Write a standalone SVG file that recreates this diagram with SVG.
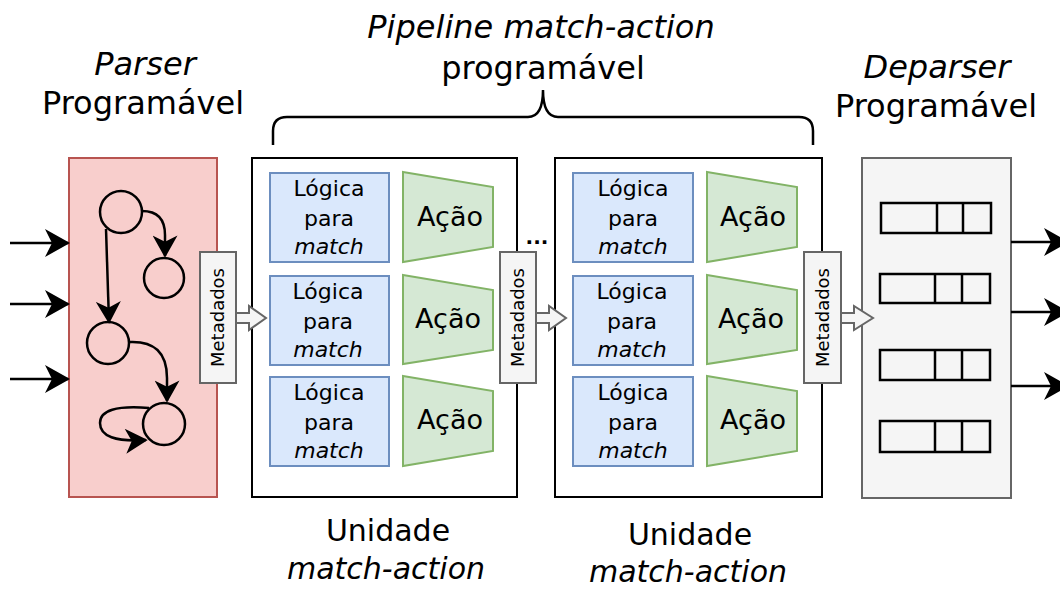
<svg xmlns="http://www.w3.org/2000/svg" width="1060" height="590" viewBox="0 0 1060 590">
<defs>
<marker id="ahl" viewBox="0 0 25 28" refX="23" refY="14" markerWidth="25" markerHeight="28" markerUnits="userSpaceOnUse" orient="auto">
<path d="M0,0 L25,14 L0,28 L7,14 Z" fill="#000"/>
</marker>
<marker id="ahm" viewBox="0 0 25 28" refX="23" refY="14" markerWidth="23" markerHeight="25" markerUnits="userSpaceOnUse" orient="auto">
<path d="M0,0 L25,14 L0,28 L7,14 Z" fill="#000"/>
</marker>
</defs>
<style>
text{font-family:"DejaVu Sans","Liberation Sans",sans-serif;fill:#000}
.big{font-size:32px}
.bot{font-size:30px}
.it{font-style:italic}
.lg{fill:#dae8fc;stroke:#6c8ebf;stroke-width:2}
.ac{fill:#d5e8d4;stroke:#82b366;stroke-width:2}
.unit{fill:#fff;stroke:#000;stroke-width:2}
.meta{fill:#f5f5f5;stroke:#666;stroke-width:2}
.mt{font-size:18px}
.lt{font-size:22px}
.at{font-size:27px}
.st{fill:none;stroke:#000;stroke-width:2.5}
.hol{fill:#f5f5f5;stroke:#666;stroke-width:2}
.pk{fill:none;stroke:#000;stroke-width:2.5}
.edge{fill:none;stroke:#000;stroke-width:2.5}
</style>
<rect width="1060" height="590" fill="#fff"/>

<!-- Titles -->
<g id="titles" text-anchor="middle">
<text class="big it" x="145" y="75">Parser</text>
<text class="big" x="143" y="114">Programável</text>
<text class="big it" x="541" y="38">Pipeline match-action</text>
<text class="big" x="543" y="79">programável</text>
<text class="big it" x="937" y="78">Deparser</text>
<text class="big" x="936" y="117">Programável</text>
<text class="bot" x="388" y="541">Unidade</text>
<text class="bot it" x="386" y="579">match-action</text>
<text class="bot" x="690" y="545">Unidade</text>
<text class="bot it" x="688" y="582">match-action</text>
</g>

<!-- Brace -->
<g id="brace">
<path class="edge" d="M273,145 L273,131 Q273,117 287,117 L528,117 Q543,117 543,90 Q543,117 558,117 L799,117 Q813,117 813,131 L813,145"/>
</g>

<!-- Parser -->
<g id="parser">
<rect x="69" y="158" width="148" height="339" fill="#f8cecc" stroke="#b85450" stroke-width="2"/>
<circle class="st" cx="121" cy="212" r="21"/>
<circle class="st" cx="164" cy="278" r="20"/>
<circle class="st" cx="108" cy="343" r="21"/>
<circle class="st" cx="164" cy="424" r="21"/>
</g>

<!-- Deparser -->
<g id="deparser">
<rect x="862" y="158" width="149" height="340" fill="#f5f5f5" stroke="#666" stroke-width="2"/>
<rect class="pk" x="881" y="203" width="110" height="30"/>
<line class="pk" x1="937" y1="203" x2="937" y2="233"/>
<line class="pk" x1="963" y1="203" x2="963" y2="233"/>
<rect class="pk" x="880" y="274" width="110" height="29"/>
<line class="pk" x1="935" y1="274" x2="935" y2="303"/>
<line class="pk" x1="962" y1="274" x2="962" y2="303"/>
<rect class="pk" x="880" y="350" width="110" height="30"/>
<line class="pk" x1="935" y1="350" x2="935" y2="380"/>
<line class="pk" x1="962" y1="350" x2="962" y2="380"/>
<rect class="pk" x="880" y="421" width="110" height="31"/>
<line class="pk" x1="935" y1="421" x2="935" y2="452"/>
<line class="pk" x1="962" y1="421" x2="962" y2="452"/>
</g>

<!-- Unit 1 -->
<g id="unit1">
<rect class="unit" x="252" y="158" width="265" height="339"/>
<rect class="lg" x="270" y="173" width="119" height="89"/>
<rect class="lg" x="270" y="276" width="119" height="89"/>
<rect class="lg" x="270" y="377" width="119" height="89"/>
<polygon class="ac" points="403,172 493,187 493,247 403,262"/>
<polygon class="ac" points="403,275 493,290 493,350 403,364"/>
<polygon class="ac" points="403,376 493,391 493,451 403,466"/>
<g text-anchor="middle">
<text class="lt" x="329" y="196">Lógica</text>
<text class="lt" x="329" y="226">para</text>
<text class="lt it" x="329" y="254">match</text>
<text class="lt" x="328" y="299">Lógica</text>
<text class="lt" x="328" y="329">para</text>
<text class="lt it" x="328" y="357">match</text>
<text class="lt" x="329" y="400">Lógica</text>
<text class="lt" x="329" y="430">para</text>
<text class="lt it" x="329" y="458">match</text>
<text class="at" x="450" y="226">Ação</text>
<text class="at" x="448" y="328">Ação</text>
<text class="at" x="450" y="429">Ação</text>
</g>
</g>

<!-- Unit 2 -->
<g id="unit2">
<rect class="unit" x="555" y="158" width="267" height="339"/>
<rect class="lg" x="573" y="173" width="120" height="89"/>
<rect class="lg" x="573" y="276" width="120" height="89"/>
<rect class="lg" x="573" y="377" width="120" height="89"/>
<polygon class="ac" points="707,172 797,187 797,247 707,262"/>
<polygon class="ac" points="707,275 797,290 797,350 707,364"/>
<polygon class="ac" points="707,376 797,391 797,451 707,466"/>
<g text-anchor="middle">
<text class="lt" x="633" y="196">Lógica</text>
<text class="lt" x="633" y="226">para</text>
<text class="lt it" x="633" y="254">match</text>
<text class="lt" x="632" y="299">Lógica</text>
<text class="lt" x="632" y="329">para</text>
<text class="lt it" x="632" y="357">match</text>
<text class="lt" x="633" y="400">Lógica</text>
<text class="lt" x="633" y="430">para</text>
<text class="lt it" x="633" y="458">match</text>
<text class="at" x="753" y="226">Ação</text>
<text class="at" x="751" y="328">Ação</text>
<text class="at" x="753" y="429">Ação</text>
</g>
</g>

<text x="537" y="244" font-size="20" text-anchor="middle" font-weight="bold">...</text>

<!-- Metadados blocks -->
<g id="meta1">
<rect class="meta" x="200" y="252" width="36" height="131"/>
<text class="mt" transform="translate(224,317.5) rotate(-90)" text-anchor="middle">Metadados</text>
</g>
<g id="meta2">
<rect class="meta" x="500" y="252" width="36" height="131"/>
<text class="mt" transform="translate(524,317.5) rotate(-90)" text-anchor="middle">Metadados</text>
</g>
<g id="meta3">
<rect class="meta" x="804" y="252" width="37" height="131"/>
<text class="mt" transform="translate(829,317.5) rotate(-90)" text-anchor="middle">Metadados</text>
</g>

<!-- Connectors -->
<g id="connectors">
<line class="edge" x1="10" y1="243" x2="68" y2="243" marker-end="url(#ahl)"/>
<line class="edge" x1="10" y1="304" x2="68" y2="304" marker-end="url(#ahl)"/>
<line class="edge" x1="10" y1="379" x2="68" y2="379" marker-end="url(#ahl)"/>
<line class="edge" x1="1011" y1="242" x2="1067" y2="242" marker-end="url(#ahl)"/>
<line class="edge" x1="1011" y1="312" x2="1067" y2="312" marker-end="url(#ahl)"/>
<line class="edge" x1="1011" y1="386" x2="1067" y2="386" marker-end="url(#ahl)"/>
<path class="edge" d="M142,211 Q165,211 165,235 L165,256" marker-end="url(#ahm)"/>
<path class="edge" d="M106,229 L109,322" marker-end="url(#ahm)"/>
<path class="edge" d="M129,342 Q167,340 167,378 L167,401" marker-end="url(#ahm)"/>
<path class="edge" d="M149,408 Q100,404 100,423 Q100,443 146,440" marker-end="url(#ahm)"/>
<polygon class="hol" points="236,313 249,313 249,306 266,318 249,330 249,323 236,323"/>
<polygon class="hol" points="536,313 549,313 549,306 566,318 549,330 549,323 536,323"/>
<polygon class="hol" points="841,313 854,313 854,306 873,318 854,330 854,323 841,323"/>
</g>
</svg>
